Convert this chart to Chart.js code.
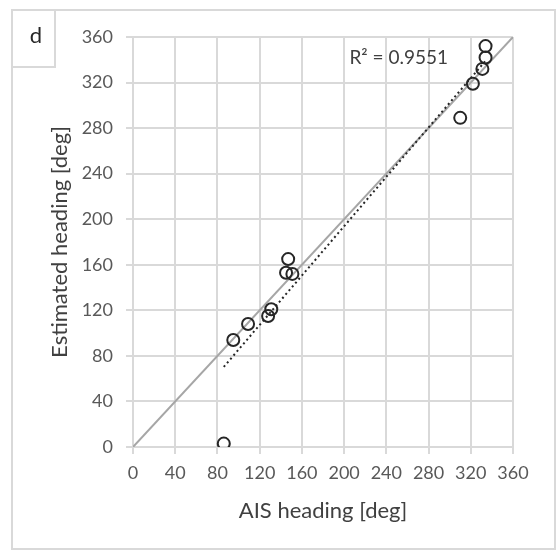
<!DOCTYPE html>
<html>
<head>
<meta charset="utf-8">
<script src="https://cdn.jsdelivr.net/npm/chart.js@4.4.1/dist/chart.umd.min.js"></script>
<style>
html,body{margin:0;padding:0;background:#fff;}
#wrap{width:559px;height:551px;position:relative;}
</style>
</head>
<body>
<div id="wrap"><canvas id="c" width="559" height="551"></canvas></div>
<script>
// Data
const aisHeading = [86, 95, 109, 128, 131, 147, 145, 151, 310, 322, 331, 334, 334];
const estHeading = [3, 94, 108, 115, 121, 165, 153, 152, 289, 319, 332, 342, 352];
const tickValues = [0, 40, 80, 120, 160, 200, 240, 280, 320, 360];
const identityX = [0, 360];
const panelLabel = 'd';
const r2Label = 'R² = 0.9551';
const r2Pos = [205, 342];
const xTitle = 'AIS heading [deg]';
const yTitle = 'Estimated heading [deg]';

const points = aisHeading.map((x, i) => ({x: x, y: estHeading[i]}));

// least-squares trend line (as the spreadsheet trendline)
const n = aisHeading.length;
const mx = aisHeading.reduce((a, b) => a + b, 0) / n;
const my = estHeading.reduce((a, b) => a + b, 0) / n;
let sxy = 0, sxx = 0;
for (let i = 0; i < n; i++) { sxy += (aisHeading[i] - mx) * (estHeading[i] - my); sxx += (aisHeading[i] - mx) ** 2; }
const slope = sxy / sxx, icpt = my - slope * mx;
const xmin = Math.min(...aisHeading), xmax = Math.max(...aisHeading);
const trend = [{x: xmin, y: icpt + slope * xmin}, {x: xmax, y: icpt + slope * xmax}];
const identity = identityX.map(v => ({x: v, y: v}));

const FONT = 'Lato, "Open Sans", sans-serif';
const TXT = '#595959';
const TITLE = '#404040';
const GRID = '#d9d9d9';

const framePlugin = {
  id: 'frame',
  beforeDraw(chart) {
    const ctx = chart.ctx;
    ctx.save();
    ctx.fillStyle = '#fff';
    ctx.fillRect(0, 0, chart.width, chart.height);
    ctx.strokeStyle = GRID;
    ctx.lineWidth = 2;
    ctx.strokeRect(12, 10, 543, 539);
    ctx.strokeRect(12, 10, 43, 57);
    ctx.fillStyle = '#262626';
    ctx.font = '22px ' + FONT;
    ctx.textAlign = 'center';
    ctx.textBaseline = 'middle';
    ctx.fillText(panelLabel, 36, 36);
    ctx.restore();
  },
  afterDatasetsDraw(chart) {
    const ctx = chart.ctx;
    const xs = chart.scales.x, ys = chart.scales.y;
    ctx.save();
    ctx.fillStyle = TITLE;
    ctx.font = '19px ' + FONT;
    ctx.textAlign = 'left';
    ctx.textBaseline = 'middle';
    ctx.fillText(r2Label, xs.getPixelForValue(r2Pos[0]), ys.getPixelForValue(r2Pos[1]));
    ctx.restore();
  }
};

new Chart(document.getElementById('c'), {
  type: 'scatter',
  data: {
    datasets: [
      {
        label: 'identity', data: identity, showLine: true, borderColor: '#a6a6a6', borderWidth: 2,
        pointRadius: 0, order: 3
      },
      {
        label: 'trend', data: trend, showLine: true, borderColor: '#262626', borderWidth: 2,
        borderDash: [2, 3], pointRadius: 0, order: 2
      },
      {
        label: 'points', data: points, pointStyle: 'circle', pointRadius: 6, pointHoverRadius: 6,
        borderColor: '#262626', borderWidth: 2, backgroundColor: 'rgba(0,0,0,0)', order: 1
      }
    ]
  },
  options: {
    responsive: false,
    animation: false,
    devicePixelRatio: 1,
    layout: {padding: {left: 0, top: 37, right: 46, bottom: 0}},
    plugins: {legend: {display: false}, tooltip: {enabled: false}},
    scales: {
      x: {
        type: 'linear', min: 0, max: 360,
        afterBuildTicks(s) { s.ticks = tickValues.map(v => ({value: v})); },
        afterFit(s) { s.height = 104; },
        grid: {color: GRID, lineWidth: 2, tickLength: 7, drawTicks: true},
        border: {color: GRID, width: 2},
        ticks: {color: TXT, font: {family: FONT, size: 18}, padding: 8, maxRotation: 0, autoSkip: false},
        title: {display: true, text: xTitle, color: TITLE, font: {family: FONT, size: 22}, padding: {top: 0, bottom: 27}}
      },
      y: {
        type: 'linear', min: 0, max: 360,
        afterBuildTicks(s) { s.ticks = tickValues.map(v => ({value: v})); },
        afterFit(s) { s.width = 133; },
        grid: {color: GRID, lineWidth: 2, tickLength: 7, drawTicks: true},
        border: {color: GRID, width: 2},
        ticks: {color: TXT, font: {family: FONT, size: 18}, padding: 13, autoSkip: false},
        title: {display: true, text: yTitle, color: TITLE, font: {family: FONT, size: 22}, padding: {top: 47, bottom: 0}}
      }
    }
  },
  plugins: [framePlugin]
});
</script>
</body>
</html>
